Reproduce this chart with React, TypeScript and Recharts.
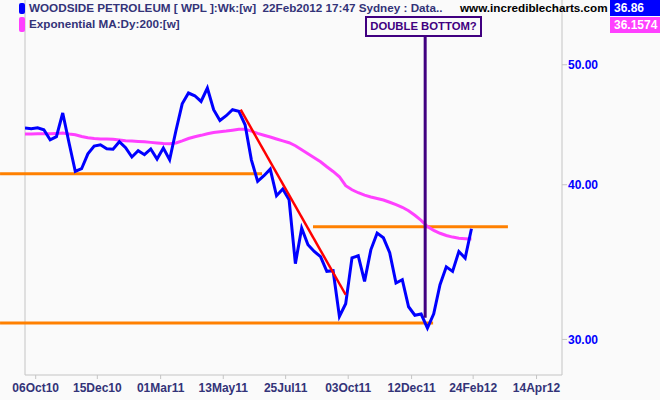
import { LineChart, Line, XAxis, YAxis, ReferenceLine } from "recharts";

// weekly closes, first point sits on the left edge of the plot
const closePrice = [
  44.45, 44.39, 44.47, 44.31, 43.49, 43.74, 45.71, 43.25, 41.0, 41.21,
  42.37, 42.98, 43.09, 42.77, 42.74, 43.33, 42.85, 42.12, 42.61, 42.3,
  42.75, 41.96, 42.82, 41.9, 44.23, 46.5, 47.44, 47.2, 46.7, 47.88,
  45.99, 45.08, 45.48, 45.99, 45.86, 44.72, 41.9, 40.25, 40.68, 41.18,
  39.19, 39.68, 38.9, 34.54, 36.9, 35.78, 35.33, 34.99, 34.05, 34.09,
  31.31, 32.06, 34.92, 35.05, 33.42, 35.44, 36.56, 36.24, 35.25, 33.32,
  33.52, 31.88, 31.38, 31.45, 30.64, 31.46, 33.21, 34.34, 34.05, 35.33,
  34.9, 36.86,
];

const emaPrice = [
  43.96, 43.96, 43.97, 43.98, 43.98, 43.99, 44.04, 43.96, 43.9, 43.75,
  43.65, 43.59, 43.56, 43.55, 43.53, 43.47, 43.41, 43.39, 43.36, 43.33,
  43.28, 43.23, 43.18, 43.17, 43.23, 43.4, 43.59, 43.74, 43.85, 43.98,
  44.08, 44.15, 44.2, 44.27, 44.34, 44.35, 44.19, 44.01, 43.86, 43.71,
  43.55, 43.4, 43.25, 43.01, 42.69, 42.37, 42.06, 41.75, 41.36, 41.0,
  40.6, 39.93, 39.63, 39.41, 39.23, 39.1, 38.99, 38.88, 38.72, 38.55,
  38.36, 38.11, 37.79, 37.44, 37.01, 36.75, 36.55, 36.4, 36.29, 36.21,
  36.18, 36.1574,
];

const dateTicks = [1.7, 11.5, 21.57, 31.53, 41.45, 51.4, 61.48, 71.27, 81.35];
const dateLabels = ["06Oct10", "15Dec10", "01Mar11", "13May11", "25Jul11", "03Oct11", "12Dec11", "24Feb12", "14Apr12"];
const priceTicks = [30, 40, 50];

// horizontal support / resistance lines: [fromWeek, toWeek, price]
const levelLines = [
  [-3.97, 37.7, 40.83],
  [-3.97, 64.9, 30.93],
  [45.8, 76.8, 37.0],
];
const trendLine = [
  [34.3, 45.99],
  [51.0, 32.6],
];
const markerLine = [
  [63.64, 52.68],
  [63.64, 31.23],
];

const data = closePrice.map((c, i) => ({ week: i, close: c, ema: emaPrice[i] }));

const font = "'Liberation Sans', Arial, sans-serif";
const navy = "#333378";

export default function App() {
  return (
    <div style={{ position: "absolute", left: 0, top: 0, width: 660, height: 400, background: "#FAFAFA", fontFamily: font, overflow: "hidden" }}>
      <LineChart width={660} height={400} data={data} margin={{ top: 0, right: 0, left: 25, bottom: 0 }}>
        <XAxis
          type="number"
          dataKey="week"
          domain={[0, 85.4]}
          allowDataOverflow
          ticks={dateTicks}
          interval={0}
          tickFormatter={(v: number) => dateLabels[dateTicks.indexOf(v)] ?? ""}
          height={25}
          tickSize={4}
          tickMargin={4}
          stroke="#C4C4C4"
          tick={{ fill: navy, fontSize: 12, fontWeight: 700, fontFamily: font }}
        />
        <YAxis
          orientation="right"
          type="number"
          scale="log"
          domain={[28.08, 56.4]}
          allowDataOverflow
          ticks={priceTicks}
          interval={0}
          tickFormatter={(v: number) => v.toFixed(2)}
          width={98}
          tickSize={5}
          tickMargin={1}
          stroke="#C4C4C4"
          tick={{ fill: "#0000FF", fontSize: 12, fontWeight: 700, fontFamily: font, textAnchor: "start" }}
        />
        <ReferenceLine x={0} stroke="#C4C4C4" strokeWidth={1} />
        {levelLines.map(([a, b, p], i) => (
          <ReferenceLine
            key={i}
            segment={[{ x: a, y: p }, { x: b, y: p }]}
            stroke="#FF8000"
            strokeWidth={3}
            ifOverflow="visible"
          />
        ))}
        <Line type="linear" dataKey="ema" stroke="#FF40FF" strokeWidth={3} dot={false} isAnimationActive={false} />
        <Line type="linear" dataKey="close" stroke="#0000FF" strokeWidth={3} dot={false} isAnimationActive={false} />
        <ReferenceLine
          segment={[{ x: trendLine[0][0], y: trendLine[0][1] }, { x: trendLine[1][0], y: trendLine[1][1] }]}
          stroke="#FF0000"
          strokeWidth={2.5}
          ifOverflow="visible"
        />
        <ReferenceLine
          segment={[{ x: markerLine[0][0], y: markerLine[0][1] }, { x: markerLine[1][0], y: markerLine[1][1] }]}
          stroke="#400080"
          strokeWidth={3}
          ifOverflow="visible"
        />
      </LineChart>

      {/* header */}
      <div style={{ position: "absolute", left: 19, top: 3, width: 6, height: 11, background: "#0000FF", borderRadius: 2 }} />
      <div style={{ position: "absolute", left: 19, top: 17, width: 6, height: 15, background: "#FF40FF", borderRadius: 2 }} />
      <div style={{ position: "absolute", left: 29, top: 1, fontSize: 11.7, fontWeight: 700, color: navy, whiteSpace: "pre", lineHeight: "14px" }}>
        {"WOODSIDE PETROLEUM [ WPL ]:Wk:[w]  22Feb2012 17:47 Sydney : Data.."}
      </div>
      <div style={{ position: "absolute", left: 29, top: 17, fontSize: 11.7, fontWeight: 700, color: navy, whiteSpace: "pre", lineHeight: "14px" }}>
        Exponential MA:Dy:200:[w]
      </div>
      <div style={{ position: "absolute", left: 460, top: 1, fontSize: 11.7, fontWeight: 700, color: "#000", lineHeight: "14px", whiteSpace: "nowrap" }}>
        www.incrediblecharts.com
      </div>
      <div style={{ position: "absolute", left: 610, top: 0, width: 50, height: 16, background: "#0000FF", color: "#fff", fontSize: 12, fontWeight: 700, lineHeight: "16px", paddingLeft: 4, boxSizing: "border-box" }}>
        36.86
      </div>
      <div style={{ position: "absolute", left: 610, top: 17, width: 50, height: 16, background: "#FF40FF", color: "#fff", fontSize: 12, fontWeight: 700, lineHeight: "16px", paddingLeft: 4, boxSizing: "border-box" }}>
        36.1574
      </div>

      {/* annotation */}
      <div style={{ position: "absolute", left: 365, top: 16, width: 117, height: 21, border: "2px solid #400080", background: "#FAFAFA", color: "#400080", fontSize: 11.3, fontWeight: 700, lineHeight: "17px", textAlign: "center", whiteSpace: "nowrap", boxSizing: "border-box" }}>
        DOUBLE BOTTOM?
      </div>
    </div>
  );
}
